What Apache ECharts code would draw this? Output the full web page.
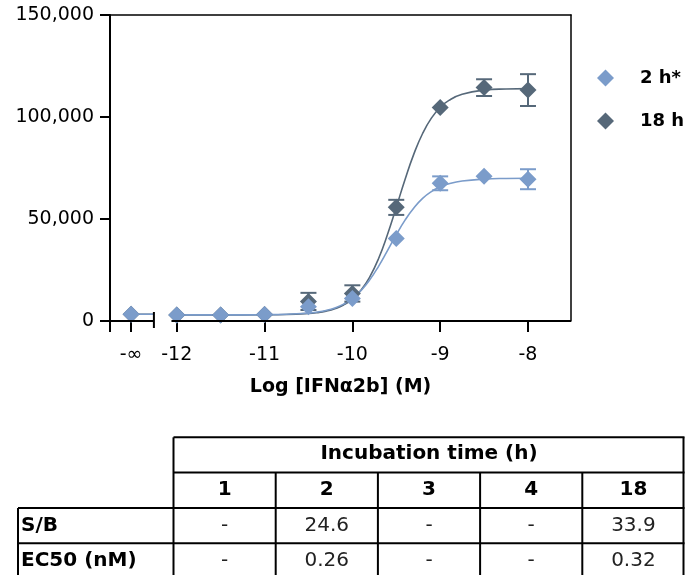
<!DOCTYPE html>
<html>
<head>
<meta charset="utf-8">
<script src="https://cdn.jsdelivr.net/npm/echarts@6/dist/echarts.min.js"></script>
<style>
  html, body { margin: 0; padding: 0; background: #fff; }
  #chart { width: 685px; height: 575px; }
</style>
</head>
<body>
<div id="chart"></div>
<script>
// ---------- data ----------
const xPoints = ['-∞', -12, -11.5, -11, -10.5, -10, -9.5, -9, -8.5, -8];
const mean2h  = [3300, 3000, 3000, 3200, 7000, 11000, 40500, 67500, 71000, 69500];
const err2h   = [0, 0, 0, 0, 0, 0, 0, 3400, 0, 4900];
const mean18h = [3300, 3000, 3000, 3200, 9600, 13500, 55700, 104700, 114400, 113200];
const err18h  = [0, 0, 0, 0, 4200, 4000, 3700, 0, 4100, 7800];

// fitted curves
const curveX   = [-12, -11.5, -11, -10.75, -10.5, -10.4, -10.3, -10.2, -10.1, -10, -9.9, -9.8, -9.7, -9.6, -9.5, -9.4, -9.3, -9.2, -9.1, -9, -8.9, -8.75, -8.5, -8.25, -8];
const curve2h  = [3000, 3010, 3090, 3280, 3880, 4380, 5180, 6420, 8290, 11040, 14990, 20290, 26920, 34490, 42260, 49430, 55390, 60080, 63430, 65710, 67250, 68600, 69560, 69870, 69960];
const curve18h = [3000, 3005, 3060, 3200, 3690, 4120, 4840, 6000, 7840, 10750, 15210, 21760, 30750, 42410, 55730, 69380, 81810, 91910, 99460, 104680, 108150, 111110, 113170, 113760, 113930];

const xTickValues = ['-∞', -12, -11, -10, -9, -8];
const yTickValues = [0, 50000, 100000, 150000];
const seriesNames = ['2 h*', '18 h'];

// table content
const tableHeader = 'Incubation time (h)';
const timeCols = ['1', '2', '3', '4', '18'];
const rowNames = ['S/B', 'EC50 (nM)'];
const sbVals = ['-', '24.6', '-', '-', '33.9'];
const ec50Vals = ['-', '0.26', '-', '-', '0.32'];

// ---------- layout ----------
const INF_POS = -12.52;   // axis position used for -∞
const BREAK_X = -12.26;   // end of the -∞ segment
const GAP_END = -12.06;   // restart of the axis
const X_MIN = -12.76, X_MAX = -7.51;
const C2 = '#7b9cca', C18 = '#566879';
const FONT = 'DejaVu Sans';

const toX = v => (v === '-∞' ? INF_POS : v);
const pts = (ys) => xPoints.map((x, i) => [toX(x), ys[i]]);
const errData = (ys, es) => xPoints.map((x, i) => [toX(x), ys[i] - es[i], ys[i] + es[i], es[i]]).filter(d => d[3] > 0);
const curveData = (ys) => curveX.map((x, i) => [x, ys[i]]);
const infSeg = (ys) => [[INF_POS, ys[0]], [BREAK_X, ys[0]]];

function errRender(color) {
  return function (params, api) {
    const x = api.value(0), lo = api.value(1), hi = api.value(2);
    const a = api.coord([x, lo]), b = api.coord([x, hi]);
    const w = 8;
    const st = { stroke: color, lineWidth: 2, fill: null };
    return {
      type: 'group',
      children: [
        { type: 'line', shape: { x1: a[0], y1: a[1], x2: b[0], y2: b[1] }, style: st },
        { type: 'line', shape: { x1: a[0] - w, y1: a[1], x2: a[0] + w, y2: a[1] }, style: st },
        { type: 'line', shape: { x1: b[0] - w, y1: b[1], x2: b[0] + w, y2: b[1] }, style: st }
      ]
    };
  };
}

const chart = echarts.init(document.getElementById('chart'), null, { renderer: 'canvas' });

const option = {
  animation: false,
  backgroundColor: '#fff',
  grid: { left: 110, right: 114, top: 15, bottom: 254, containLabel: false, outerBoundsMode: 'none' },
  legend: {
    data: seriesNames,
    orient: 'vertical',
    left: 592, top: 64,
    icon: 'diamond',
    itemWidth: 17, itemHeight: 17,
    itemGap: 25,
    textStyle: { fontFamily: FONT, fontSize: 18, fontWeight: 900, color: '#000', padding: [0, 0, 0, 21] }
  },
  xAxis: [{
    type: 'value', min: X_MIN, max: X_MAX,
    splitLine: { show: false },
    axisLine: { show: false },
    axisTick: { show: true, inside: false, length: 11, lineStyle: { color: '#000', width: 2 }, customValues: xTickValues.map(toX) },
    axisLabel: {
      show: true, margin: 25, fontFamily: FONT, fontSize: 19, color: '#000',
      customValues: xTickValues.map(toX),
      formatter: v => (v < -12.3 ? '-∞' : String(v))
    },
    name: 'Log [IFNα2b] (M)',
    nameLocation: 'middle', nameGap: 57,
    nameTextStyle: { fontFamily: FONT, fontSize: 19, fontWeight: 900, color: '#000' }
  }, {
    type: 'value', position: 'top', min: X_MIN, max: X_MAX,
    axisLine: { show: true, onZero: false, lineStyle: { color: '#000', width: 1.5 } },
    axisTick: { show: false }, axisLabel: { show: false }, splitLine: { show: false }
  }],
  yAxis: [{
    type: 'value', min: 0, max: 150000, interval: 50000,
    splitLine: { show: false },
    axisLine: { show: true, onZero: false, lineStyle: { color: '#000', width: 2 } },
    axisTick: { show: true, inside: false, length: 10, lineStyle: { color: '#000', width: 2 } },
    axisLabel: {
      margin: 16, fontFamily: FONT, fontSize: 19, color: '#000',
      formatter: v => v.toLocaleString('en-US')
    }
  }, {
    type: 'value', position: 'right', min: 0, max: 150000,
    axisLine: { show: true, onZero: false, lineStyle: { color: '#000', width: 1.5 } },
    axisTick: { show: false }, axisLabel: { show: false }, splitLine: { show: false }
  }],
  series: [
    { name: 'fit18', type: 'line', data: curveData(curve18h), smooth: true, symbol: 'none', lineStyle: { color: C18, width: 1.6 }, z: 2, silent: true },
    { name: 'fit2', type: 'line', data: curveData(curve2h), smooth: true, symbol: 'none', lineStyle: { color: C2, width: 1.6 }, z: 2, silent: true },
    { name: 'inf18', type: 'line', data: infSeg(mean18h), symbol: 'none', lineStyle: { color: C18, width: 1.6 }, z: 2, silent: true },
    { name: 'inf2', type: 'line', data: infSeg(mean2h), symbol: 'none', lineStyle: { color: C2, width: 1.6 }, z: 2, silent: true },
    { name: 'err18', type: 'custom', data: errData(mean18h, err18h), renderItem: errRender(C18), z: 3, silent: true },
    { name: seriesNames[1], type: 'scatter', data: pts(mean18h), symbol: 'diamond', symbolSize: 17, itemStyle: { color: C18, opacity: 1 }, z: 4 },
    { name: 'err2', type: 'custom', data: errData(mean2h, err2h), renderItem: errRender(C2), z: 5, silent: true },
    { name: seriesNames[0], type: 'scatter', data: pts(mean2h), symbol: 'diamond', symbolSize: 17, itemStyle: { color: C2, opacity: 1 }, z: 6 }
  ]
};
chart.setOption(option);

// ---------- axis decorations (positions from the library's scales) ----------
const P = v => chart.convertToPixel({ gridIndex: 0 }, v);
const o = P([X_MIN, 0]), bk = P([BREAK_X, 0]), ge = P([GAP_END, 0]), xe = P([X_MAX, 0]);
const axisStyle = { stroke: '#000', lineWidth: 2 };
const graphics = [
  { type: 'line', shape: { x1: o[0] - 1, y1: o[1], x2: bk[0], y2: bk[1] }, style: axisStyle, z: 10 },
  { type: 'line', shape: { x1: ge[0], y1: ge[1], x2: xe[0], y2: xe[1] }, style: axisStyle, z: 10 },
  { type: 'line', shape: { x1: bk[0], y1: bk[1] - 9, x2: bk[0], y2: bk[1] + 7 }, style: axisStyle, z: 10 },
  { type: 'line', shape: { x1: o[0], y1: o[1], x2: o[0], y2: o[1] + 11 }, style: axisStyle, z: 10 }
];

// ---------- table ----------
const T = { left: 18, col0Right: 173.5, colW: 102.2, top: 437.3, rowH: 35.3 };
const right = T.col0Right + T.colW * timeCols.length;
const rowY = i => T.top + T.rowH * i;
const lineStyleT = { stroke: '#000', lineWidth: 2 };
const L = (x1, y1, x2, y2) => ({ type: 'line', shape: { x1, y1, x2, y2 }, style: lineStyleT, z: 20 });
const bottom = rowY(4);
graphics.push(L(T.col0Right, rowY(0), right, rowY(0)));
graphics.push(L(T.col0Right, rowY(1), right, rowY(1)));
graphics.push(L(T.left, rowY(2), right, rowY(2)));
graphics.push(L(T.left, rowY(3), right, rowY(3)));
graphics.push(L(T.left, bottom, right, bottom));
graphics.push(L(T.left, rowY(2), T.left, bottom));
graphics.push(L(T.col0Right, rowY(0), T.col0Right, bottom));
graphics.push(L(right - 1, rowY(0), right - 1, bottom));
for (let c = 1; c < timeCols.length; c++) {
  const x = T.col0Right + T.colW * c;
  graphics.push(L(x, rowY(1), x, bottom));
}
const txt = (s, x, y, align, bold) => ({
  type: 'text', x, y, z: 21,
  style: { text: s, fontFamily: FONT, fontSize: 20, fontWeight: bold ? 'bold' : 'normal', fill: bold ? '#000' : '#222', align, verticalAlign: 'middle' }
});
graphics.push(txt(tableHeader, (T.col0Right + right) / 2, rowY(0) + T.rowH / 2 - 1, 'center', true));
timeCols.forEach((c, i) => graphics.push(txt(c, T.col0Right + T.colW * (i + 0.5), rowY(1) + T.rowH / 2, 'center', true)));
[sbVals, ec50Vals].forEach((vals, r) => {
  graphics.push(txt(rowNames[r], T.left + 3, rowY(2 + r) + T.rowH / 2, 'left', true));
  vals.forEach((v, i) => graphics.push(txt(v, T.col0Right + T.colW * (i + 0.5), rowY(2 + r) + T.rowH / 2, 'center', false)));
});

chart.setOption({ graphic: graphics });
</script>
</body>
</html>
